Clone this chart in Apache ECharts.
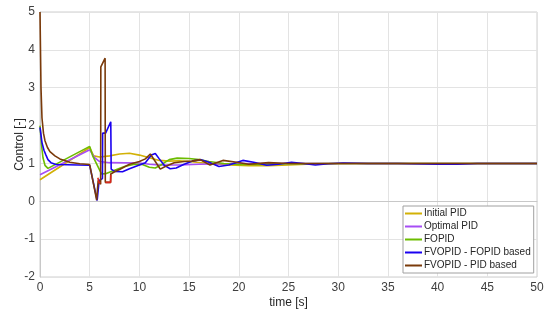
<!DOCTYPE html>
<html>
<head>
<meta charset="utf-8">
<script src="https://cdn.jsdelivr.net/npm/echarts@6/dist/echarts.min.js"></script>
<style>
html,body{margin:0;padding:0;background:#fff;}
#c{width:550px;height:320px;}
</style>
</head>
<body>
<div id="c"></div>
<script>
// ---- data ----
var seriesNames = ['Initial PID', 'Optimal PID', 'FOPID', 'FVOPID - FOPID based', 'FVOPID - PID based'];
var xTicks = [0, 5, 10, 15, 20, 25, 30, 35, 40, 45, 50];
var yTicks = [-2, -1, 0, 1, 2, 3, 4, 5];

var tInitial = [0, 5, 5.4, 6, 7, 8, 9, 10, 11, 12, 13, 14, 15, 17, 19, 21, 23, 25, 28, 32, 50];
var uInitial = [0.57, 1.42, 1.2, 1.17, 1.2, 1.25, 1.27, 1.22, 1.15, 1.08, 1.06, 1.07, 1.05, 1.0, 0.96, 0.94, 0.94, 0.96, 0.99, 1.0, 1.0];

var tOptimal = [0, 5, 5.5, 6, 7, 10, 11, 12, 14, 16, 20, 50];
var uOptimal = [0.7, 1.36, 1.15, 1.05, 1.02, 1.01, 0.98, 0.96, 0.96, 0.98, 1.0, 1.0];

var tFopid = [0, 0.15, 0.3, 0.5, 0.8, 5, 5.3, 6.2, 6.6, 7.5, 8.5, 9.5, 10.3, 11.0, 11.6, 12.3, 13.0, 13.8, 15, 16, 17, 18.5, 20, 22, 25, 30, 50];
var uFopid = [2.0, 1.5, 1.15, 0.95, 0.87, 1.45, 1.2, 0.72, 0.73, 0.82, 0.92, 0.98, 0.97, 0.9, 0.88, 0.98, 1.1, 1.14, 1.13, 1.1, 1.05, 1.0, 0.97, 0.97, 0.99, 1.0, 1.0];

var tFvoFopid = [0, 0.2, 0.4, 0.6, 0.8, 1.1, 1.6, 5, 5.75, 5.95, 6.28, 6.3, 6.6, 6.68, 6.78, 7.12, 7.16, 7.5, 8.3, 9, 10, 10.6, 11.2, 11.6, 12.0, 12.5, 13.1, 13.7, 14.5, 15.3, 16.2, 17, 18, 19, 20.4, 21.5, 22.8, 24, 25.3, 26.5, 27.7, 29, 30.5, 33, 36, 40, 42, 44, 50];
var uFvoFopid = [1.95, 1.55, 1.35, 1.22, 1.1, 1.02, 0.97, 0.95, 0.02, 0.55, 0.6, 1.8, 1.8, 1.75, 1.85, 2.1, 0.85, 0.79, 0.78, 0.86, 0.96, 1.02, 1.22, 1.26, 1.12, 0.95, 0.86, 0.88, 0.98, 1.06, 1.1, 1.03, 0.92, 0.96, 1.08, 1.03, 0.95, 0.98, 1.03, 1.0, 0.96, 0.99, 1.01, 1.0, 1.0, 0.98, 0.98, 1.0, 1.0];

var tFvoPid = [0, 0.1, 0.2, 0.35, 0.5, 0.75, 1, 1.5, 2, 3, 4, 5, 5.7, 5.85, 6.1, 6.12, 6.55, 6.57, 7.1, 7.12, 7.5, 8, 9, 10, 10.6, 11.1, 11.6, 12.1, 12.6, 13.5, 14.5, 15.3, 16.1, 17.1, 18.4, 19.8, 21, 23, 25, 50];
var uFvoPid = [5.0, 3.0, 2.2, 1.8, 1.6, 1.42, 1.31, 1.2, 1.12, 1.03, 0.99, 0.97, 0.03, 0.55, 0.45, 3.55, 3.78, 0.5, 0.5, 0.72, 0.78, 0.84, 0.98, 1.05, 1.12, 1.25, 1.05, 0.85, 0.92, 1.02, 1.05, 1.06, 1.1, 0.96, 1.08, 1.03, 0.98, 1.02, 1.0, 1.0];

// short red pieces visible near t = 6..7
var tRedA = [5.82, 5.95, 6.08];
var uRedA = [0.62, 0.48, 0.5];
var tRedB = [6.58, 7.1, 7.12];
var uRedB = [0.5, 0.5, 0.7];

function pairs(t, u) { return t.map(function (v, i) { return [v, u[i]]; }); }

var colors = ['#d2b106', '#a64df5', '#6cbc00', '#1a00f0', '#7a3a0a'];
var sets = [[tInitial, uInitial], [tOptimal, uOptimal], [tFopid, uFopid], [tFvoFopid, uFvoFopid], [tFvoPid, uFvoPid]];

var series = sets.map(function (s, i) {
  return {
    name: seriesNames[i], type: 'line', data: pairs(s[0], s[1]),
    showSymbol: false, symbol: 'none', animation: false,
    lineStyle: { color: colors[i], width: 1.6 }, itemStyle: { color: colors[i] }
  };
});
[[tRedA, uRedA], [tRedB, uRedB]].forEach(function (s) {
  series.push({ name: 'red', type: 'line', data: pairs(s[0], s[1]), showSymbol: false, symbol: 'none',
    animation: false, lineStyle: { color: '#d8261c', width: 1.6 }, itemStyle: { color: '#d8261c' } });
});

var font = '"Liberation Sans", Arial, sans-serif';
var chart = echarts.init(document.getElementById('c'));
chart.setOption({
  animation: false,
  backgroundColor: '#fff',
  textStyle: { fontFamily: font },
  grid: { left: 40, right: 13, top: 12, bottom: 43, show: true, borderColor: '#cfcfcf', borderWidth: 1,
          containLabel: false, outerBoundsMode: 'none' },
  xAxis: {
    type: 'value', min: xTicks[0], max: xTicks[xTicks.length - 1], interval: 5,
    name: 'time [s]', nameLocation: 'middle', nameGap: 20, nameMoveOverlap: false,
    nameTextStyle: { fontSize: 12, color: '#262626', fontFamily: font },
    axisLine: { show: true, lineStyle: { color: '#c8c8c8' } },
    axisTick: { show: false },
    axisLabel: { fontSize: 12, color: '#404040', fontFamily: font, margin: 5 },
    splitLine: { show: true, lineStyle: { color: '#e3e3e3', width: 1 } }
  },
  yAxis: {
    type: 'value', min: yTicks[0], max: yTicks[yTicks.length - 1], interval: 1,
    name: 'Control [-]', nameLocation: 'middle', nameGap: 14, nameMoveOverlap: false,
    nameTextStyle: { fontSize: 12, color: '#262626', fontFamily: font },
    axisLine: { show: true, lineStyle: { color: '#c8c8c8' } },
    axisTick: { show: false },
    axisLabel: { fontSize: 12, color: '#404040', fontFamily: font, margin: 5 },
    splitLine: { show: true, lineStyle: { color: '#e3e3e3', width: 1 } }
  },
  legend: {
    data: seriesNames, orient: 'vertical', left: 403, top: 206,
    icon: 'rect', itemWidth: 17, itemHeight: 2, itemGap: 0,
    padding: [1, 3, 1, 2],
    backgroundColor: '#fff', borderColor: '#a0a0a0', borderWidth: 1, borderRadius: 0,
    textStyle: { fontSize: 10, lineHeight: 13, color: '#262626', fontFamily: font, padding: [0, 0, 0, -3] }
  },
  series: series
});
</script>
</body>
</html>
